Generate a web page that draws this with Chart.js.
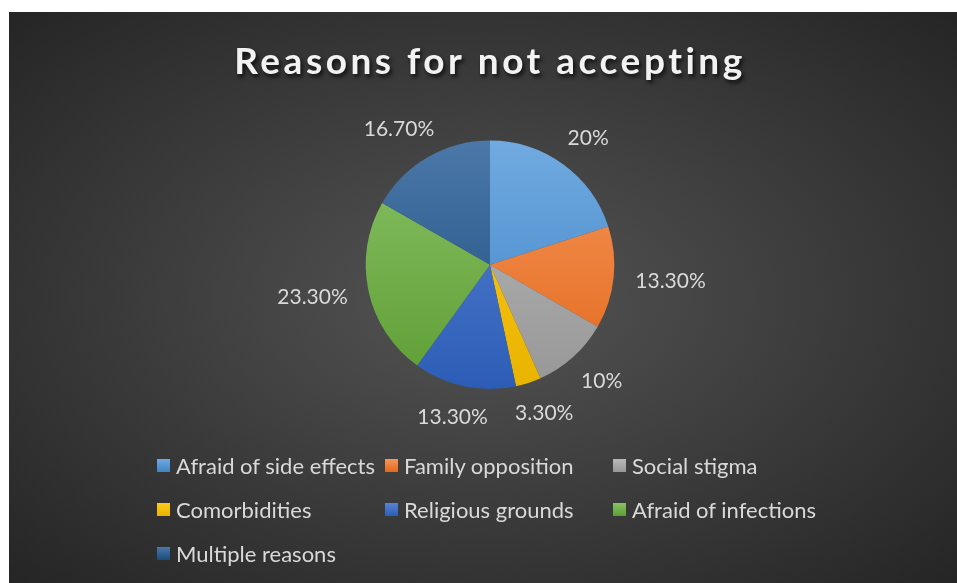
<!DOCTYPE html>
<html>
<head>
<meta charset="utf-8">
<script src="https://cdn.jsdelivr.net/npm/chart.js@4.4.1/dist/chart.umd.min.js"></script>
<style>
  html, body { margin: 0; padding: 0; background: #fff; }
  #wrap {
    position: absolute; left: 9px; top: 12px; width: 948px; height: 571px;
    background: radial-gradient(ellipse farthest-corner at 50% 50%, #545454 0%, #3a3a3a 55%, #252525 100%);
    overflow: hidden;
  }
  #mycanvas { position: absolute; left: 0; top: 0; }
  #legend {
    position: absolute; left: 148px; top: 431px;
    display: grid; grid-template-columns: 228px 228px 228px; grid-auto-rows: 44px;
    font-family: Lato, sans-serif; font-size: 22px; color: #d9d9d9;
  }
  #legend div { display: flex; align-items: center; white-space: nowrap; }
  #legend span.box { width: 13px; height: 13px; margin-right: 6px; display: inline-block; flex: none; }
</style>
</head>
<body>
<div id="wrap">
  <canvas id="mycanvas" width="948" height="571"></canvas>
  <div id="legend"></div>
</div>
<script>
var categories = ["Afraid of side effects", "Family opposition", "Social stigma", "Comorbidities", "Religious grounds", "Afraid of infections", "Multiple reasons"];
var percents = [20, 13.3, 10, 3.3, 13.3, 23.3, 16.7];
var topColors = ["#70aae0", "#f4965c", "#b9b9b9", "#ffcb1a", "#5883d3", "#88c165", "#4b78a8"];
var baseColors = ["#3f83c6", "#e4681a", "#979797", "#e8b400", "#2c5db6", "#5e9e34", "#1a4b7e"];

function fmt(v) {
	return (v % 1 === 0 ? v : v.toFixed(2)) + "%";
}

// legend in html so the columns line up like the original
var legend = document.getElementById("legend");
for (var i in categories) {
	var item = document.createElement("div");
	item.innerHTML = '<span class="box" style="background:linear-gradient(' + topColors[i] + ',' + baseColors[i] + ')"></span>' + categories[i];
	legend.appendChild(item);
}

function sliceFill(context) {
	var chart = context.chart;
	var area = chart.chartArea;
	if (!area) return baseColors[context.dataIndex];
	var g = chart.ctx.createLinearGradient(0, area.top, 0, area.bottom);
	g.addColorStop(0, topColors[context.dataIndex]);
	g.addColorStop(1, baseColors[context.dataIndex]);
	return g;
}

var outLabels = {
	id: "outLabels",
	afterDatasetsDraw: function(chart) {
		var ctx = chart.ctx;
		var meta = chart.getDatasetMeta(0);
		ctx.save();
		ctx.font = "21px Lato";
		ctx.fillStyle = "#d9d9d9";
		ctx.textAlign = "center";
		ctx.textBaseline = "middle";
		meta.data.forEach(function(arc, i) {
			var p = arc.getProps(["x", "y", "startAngle", "endAngle", "outerRadius"], true);
			var a = (p.startAngle + p.endAngle) / 2;
			var txt = fmt(percents[i]);
			var w = ctx.measureText(txt).width;
			var r = p.outerRadius + 22;
			var x = p.x + Math.cos(a) * r + Math.cos(a) * w / 2;
			var y = p.y + Math.sin(a) * r + Math.sin(a) * 10;
			ctx.fillText(txt, x, y);
		});
		ctx.restore();
	}
};

var titleShadow = {
	id: "titleShadow",
	afterInit: function(chart) {
		var tb = chart.titleBlock;
		var orig = tb.draw;
		tb.draw = function() {
			var ctx = chart.ctx;
			ctx.save();
			ctx.shadowColor = "rgba(0,0,0,0.75)";
			ctx.shadowBlur = 4;
			ctx.shadowOffsetX = 2;
			ctx.shadowOffsetY = 3;
			ctx.letterSpacing = "3.5px";
			orig.apply(this, arguments);
			ctx.restore();
		};
	}
};

var ctx = document.getElementById("mycanvas");

var PieChart = new Chart(ctx, {
	type: "pie",
	data: {
		labels: categories,
		datasets: [{
			data: percents,
			backgroundColor: sliceFill,
			borderWidth: 0
		}]
	},
	options: {
		responsive: false,
		animation: false,
		layout: { padding: { left: 14, top: 0, bottom: 194 } },
		plugins: {
			legend: { display: false },
			tooltip: { enabled: false },
			title: {
				display: true,
				text: "Reasons for not accepting",
				color: "#f2f2f2",
				font: { family: "Lato", size: 37, weight: "bold" },
				padding: { top: 28, bottom: 56 }
			}
		}
	},
	plugins: [outLabels, titleShadow]
});
</script>
</body>
</html>
